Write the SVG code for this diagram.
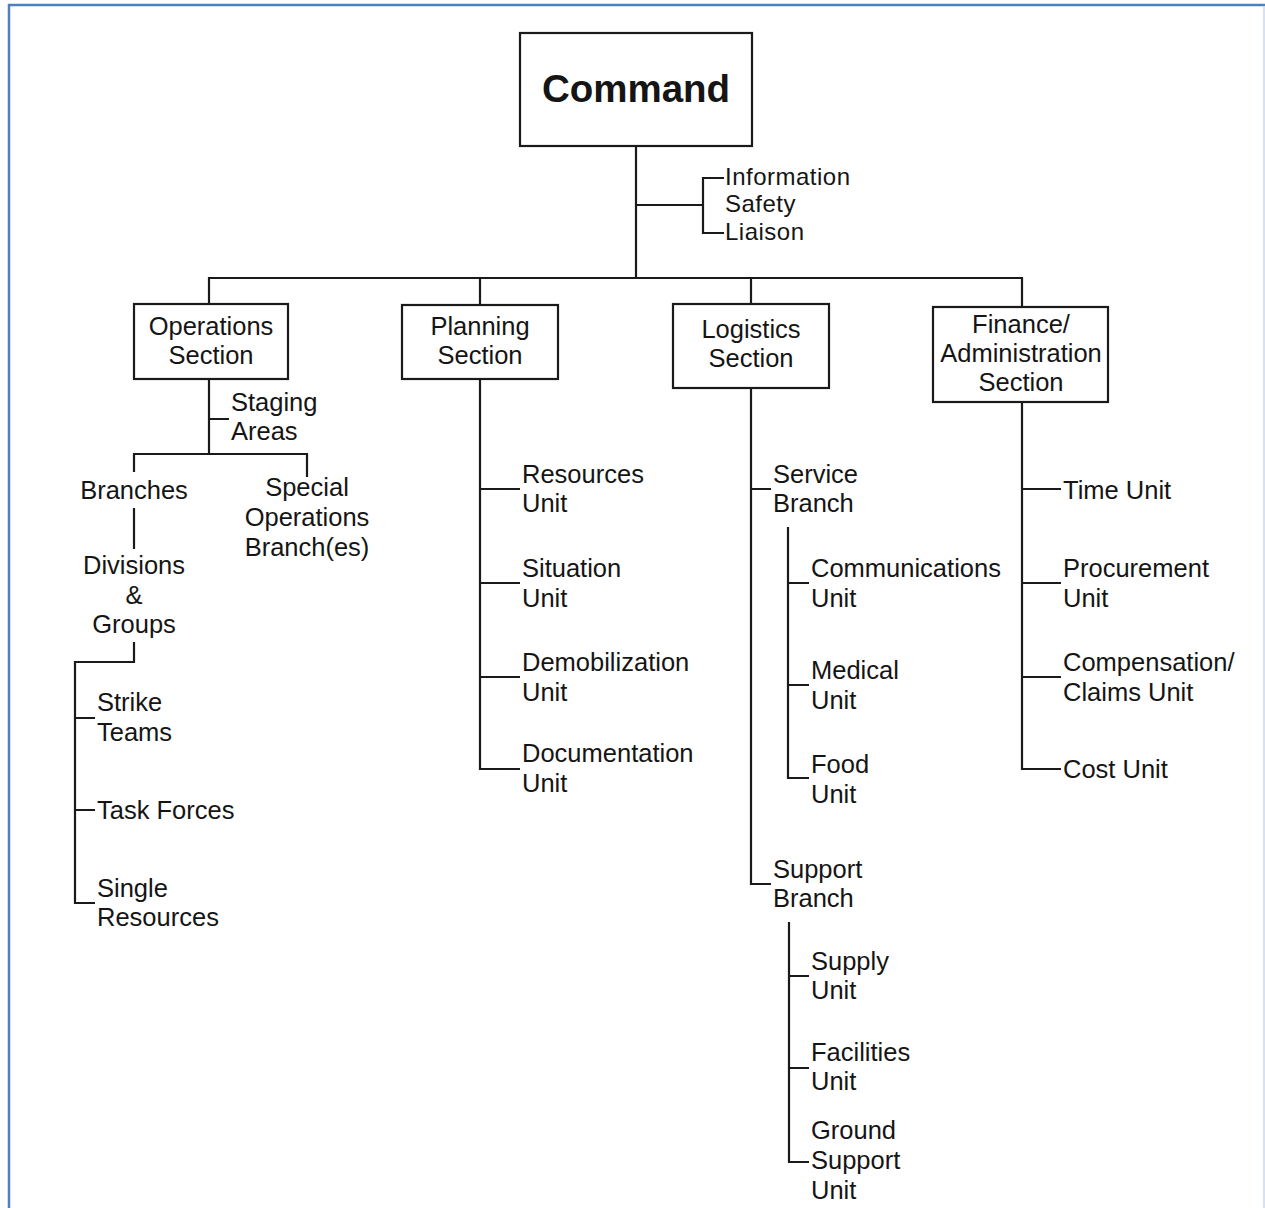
<svg xmlns="http://www.w3.org/2000/svg" width="1265" height="1208" viewBox="0 0 1265 1208">
<style>
.box{fill:#fff;stroke:#1a1a1a;stroke-width:2.2}
.ln{fill:none;stroke:#1a1a1a;stroke-width:2.2}
text{font-family:"Liberation Sans",Arial,sans-serif;font-size:25.5px;fill:#151515}
.c{text-anchor:middle}
.big{font-size:38.5px;font-weight:bold}
.sm{font-size:24px;letter-spacing:0.5px}
</style>
<rect x="0" y="0" width="1265" height="1208" fill="#fff"/>
<g id="frame">
<line x1="8" y1="5" x2="1265" y2="5" stroke="#4f81bd" stroke-width="2.5"/>
<line x1="9" y1="4" x2="9" y2="1208" stroke="#4f81bd" stroke-width="2.5"/>
<line x1="1264" y1="6" x2="1264" y2="1208" stroke="#c9d8ec" stroke-width="1.5"/>
</g>
<g id="connectors">
<path class="ln" d="M636,146 V278 M636,205 H703 M724,178 H703 V233 H724 M209,304 V278 H1022 V307 M480,278 V305 M751,278 V304"/>
<path class="ln" d="M209,379 V454 M209,419 H229 M134,472 V454 H307 V477 M134,508 V549 M134,642 V662 H75 V903 H95 M75,718 H95 M75,810 H95"/>
<path class="ln" d="M480,379 V769 H520 M480,489 H520 M480,583 H520 M480,677 H520"/>
<path class="ln" d="M751,388 V884 H771 M751,489 H771 M788,527 V778 H809 M788,583 H809 M788,685 H809 M789,922 V1162 H809 M789,976 H809 M789,1068 H809"/>
<path class="ln" d="M1022,402 V769 H1061 M1022,489 H1061 M1022,583 H1061 M1022,677 H1061"/>
</g>
<g id="command"><rect class="box" x="520" y="33" width="232" height="113"/><text class="big c" x="636" y="102">Command</text></g>
<g id="information"><text class="sm" x="725" y="185">Information</text></g>
<g id="safety"><text class="sm" x="725" y="212">Safety</text></g>
<g id="liaison"><text class="sm" x="725" y="240">Liaison</text></g>
<g id="operations"><rect class="box" x="134" y="304" width="154" height="75"/><text class="c" x="211" y="335">Operations</text><text class="c" x="211" y="364">Section</text></g>
<g id="planning"><rect class="box" x="402" y="305" width="156" height="74"/><text class="c" x="480" y="335">Planning</text><text class="c" x="480" y="364">Section</text></g>
<g id="logistics"><rect class="box" x="673" y="304" width="156" height="84"/><text class="c" x="751" y="338">Logistics</text><text class="c" x="751" y="367">Section</text></g>
<g id="finance"><rect class="box" x="933" y="307" width="175" height="95"/><text class="c" x="1021" y="333">Finance/</text><text class="c" x="1021" y="362">Administration</text><text class="c" x="1021" y="391">Section</text></g>
<g id="staging"><text x="231" y="411">Staging</text><text x="231" y="440">Areas</text></g>
<g id="branches"><text class="c" x="134" y="499">Branches</text></g>
<g id="special-ops"><text class="c" x="307" y="496">Special</text><text class="c" x="307" y="526">Operations</text><text class="c" x="307" y="556">Branch(es)</text></g>
<g id="divisions"><text class="c" x="134" y="574">Divisions</text><text class="c" x="134" y="604">&amp;</text><text class="c" x="134" y="633">Groups</text></g>
<g id="strike"><text x="97" y="711">Strike</text><text x="97" y="741">Teams</text></g>
<g id="task-forces"><text x="97" y="819">Task Forces</text></g>
<g id="single"><text x="97" y="897">Single</text><text x="97" y="926">Resources</text></g>
<g id="resources-unit"><text x="522" y="483">Resources</text><text x="522" y="512">Unit</text></g>
<g id="situation-unit"><text x="522" y="577">Situation</text><text x="522" y="607">Unit</text></g>
<g id="demob-unit"><text x="522" y="671">Demobilization</text><text x="522" y="701">Unit</text></g>
<g id="doc-unit"><text x="522" y="762">Documentation</text><text x="522" y="792">Unit</text></g>
<g id="service-branch"><text x="773" y="483">Service</text><text x="773" y="512">Branch</text></g>
<g id="comm-unit"><text x="811" y="577">Communications</text><text x="811" y="607">Unit</text></g>
<g id="medical-unit"><text x="811" y="679">Medical</text><text x="811" y="709">Unit</text></g>
<g id="food-unit"><text x="811" y="773">Food</text><text x="811" y="803">Unit</text></g>
<g id="support-branch"><text x="773" y="878">Support</text><text x="773" y="907">Branch</text></g>
<g id="supply-unit"><text x="811" y="970">Supply</text><text x="811" y="999">Unit</text></g>
<g id="facilities-unit"><text x="811" y="1061">Facilities</text><text x="811" y="1090">Unit</text></g>
<g id="ground-unit"><text x="811" y="1139">Ground</text><text x="811" y="1169">Support</text><text x="811" y="1199">Unit</text></g>
<g id="time-unit"><text x="1063" y="499">Time Unit</text></g>
<g id="procurement-unit"><text x="1063" y="577">Procurement</text><text x="1063" y="607">Unit</text></g>
<g id="comp-unit"><text x="1063" y="671">Compensation/</text><text x="1063" y="701">Claims Unit</text></g>
<g id="cost-unit"><text x="1063" y="778">Cost Unit</text></g>
</svg>
